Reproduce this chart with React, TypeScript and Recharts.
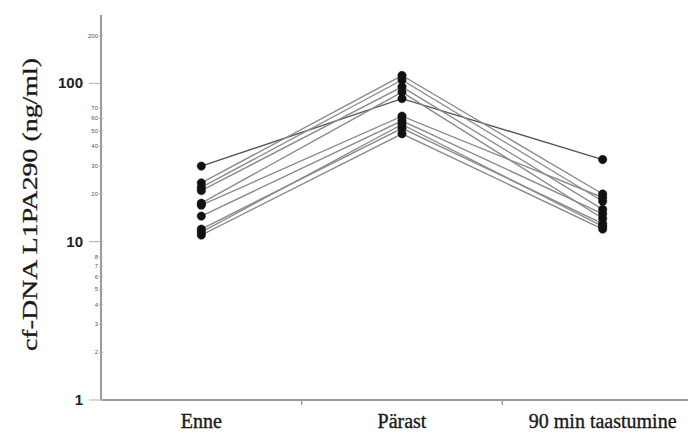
import { LineChart, Line, XAxis, YAxis } from "recharts";

const categories = ["Enne", "Pärast", "90 min taastumine"];

// one value per subject (ng/ml)
const enne = [30, 23.5, 22, 21, 17.5, 17, 14.5, 12, 11, 11.5];
const parast = [80, 112, 105, 95, 88, 62, 58, 52, 48, 55];
const taastumine = [33, 20, 18, 16, 14, 19, 15, 13, 12, 12.5];

const yTicks = [1, 2, 3, 4, 5, 6, 7, 8, 10, 20, 30, 40, 50, 60, 70, 100, 200];
const bigTicks = [1, 10, 100];
const yTitle = "cf-DNA L1PA290 (ng/ml)";

const series = [enne, parast, taastumine];
const data = categories.map((c, i) => {
  const row: Record<string, number | string> = { x: i + 0.5, name: c };
  series[i].forEach((v, s) => (row["s" + s] = v));
  return row;
});

const AXIS = "#9a9a9a";

function XTick({ x, y, payload }: any) {
  const v = payload.value as number;
  if (Number.isInteger(v)) {
    return <line x1={x} x2={x} y1={y - 8} y2={y - 3} stroke={AXIS} strokeWidth={1.5} />;
  }
  return (
    <text
      x={x}
      y={y + 20}
      textAnchor="middle"
      fontFamily="'Liberation Serif', serif"
      fontSize={20}
      fill="#1a1a1a"
      stroke="#1a1a1a"
      strokeWidth={0.35}
    >
      {categories[Math.floor(v)]}
    </text>
  );
}

function YTick({ x, y, payload }: any) {
  const v = payload.value as number;
  const big = bigTicks.includes(v);
  return (
    <g>
      <line x1={big ? x - 4 : x + 6} x2={x + 10} y1={y} y2={y} stroke="#b0b0b0" strokeWidth={1} />
      <text
        x={big ? x - 10 : x + 5}
        y={y}
        dy={big ? 5 : 2}
        textAnchor="end"
        fontFamily="'Liberation Sans', Arial, sans-serif"
        fontWeight={big ? 700 : 400}
        fontSize={big ? 15 : 6}
        fill={big ? "#222" : "#555"}
      >
        {v}
      </text>
    </g>
  );
}

function YTitle({ viewBox }: any) {
  const cy = viewBox.y + viewBox.height / 2;
  return (
    <text
      x={0}
      y={0}
      transform={`translate(22, ${cy - 3}) rotate(-90)`}
      textAnchor="middle"
      dominantBaseline="central"
      fontFamily="'Liberation Serif', serif"
      fontSize={20}
      fill="#1a1a1a"
      stroke="#1a1a1a"
      strokeWidth={0.3}
      textLength={293}
      lengthAdjust="spacingAndGlyphs"
    >
      {yTitle}
    </text>
  );
}

export default function App() {
  return (
    <div style={{ width: 688, height: 427, overflow: "hidden", background: "#fff" }}>
      <LineChart width={700} height={427} data={data} margin={{ top: 7, right: 5, left: 0, bottom: 0 }}>
        <XAxis
          type="number"
          dataKey="x"
          domain={[0, 3]}
          ticks={[0.5, 1, 1.5, 2, 2.5]}
          tick={<XTick />}
          tickLine={false}
          axisLine={{ stroke: AXIS, strokeWidth: 2 }}
          height={35}
          interval={0}
        />
        <YAxis
          type="number"
          scale="log"
          domain={[1, 270]}
          allowDataOverflow
          ticks={yTicks}
          tick={<YTick />}
          tickLine={false}
          axisLine={{ stroke: AXIS, strokeWidth: 2 }}
          width={93}
          interval={0}
          label={<YTitle />}
        />
        {enne.map((_, s) => (
          <Line
            key={s}
            dataKey={"s" + s}
            stroke={s === 0 ? "#555" : "#8c8c8c"}
            strokeWidth={1.4}
            dot={{ r: 4.2, fill: "#111", stroke: "#111", strokeWidth: 0.5 }}
            isAnimationActive={false}
          />
        ))}
      </LineChart>
    </div>
  );
}
